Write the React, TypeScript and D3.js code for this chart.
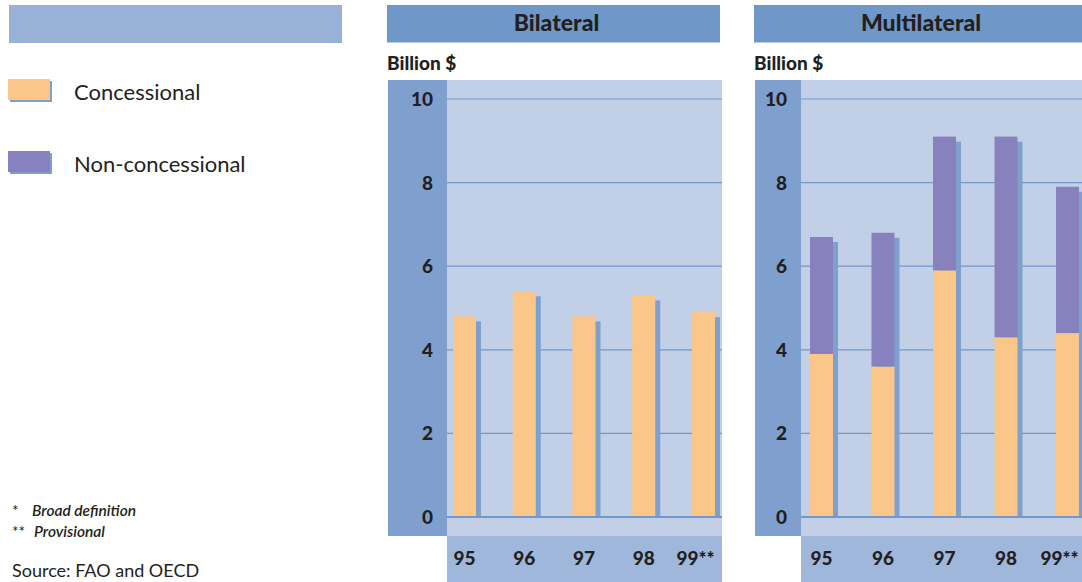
import React from "react";
import * as d3 from "d3";

const years = ["95", "96", "97", "98", "99**"];
const bilateralConcessional = [4.8, 5.4, 4.8, 5.3, 4.9];
const multilateralConcessional = [3.9, 3.6, 5.9, 4.3, 4.4];
const multilateralNonConcessional = [2.8, 3.2, 3.2, 4.8, 3.5];
const yTicks = [0, 2, 4, 6, 8, 10];
const legendLabels = ["Concessional", "Non-concessional"];

const C = {
  title: "#6f98c9",
  legendBar: "#98b1d7",
  strip: "#7fa0ce",
  plot: "#c1d0e7",
  xband: "#9fb7db",
  grid: "#7197cb",
  conc: "#fbc689",
  nonc: "#8782bd",
  shadow: "#7fa0ce",
  text: "#231f20",
};
const FONT = "Lato, 'Open Sans', sans-serif";

type PanelProps = {
  title: string;
  titleX0: number;
  titleX1: number;
  stripX0: number;
  plotX0: number;
  plotX1: number;
  firstCenter: number;
  lastCenter: number;
  conc: number[];
  nonc?: number[];
};

function Panel(p: PanelProps) {
  const y = d3.scaleLinear().domain([0, 10]).range([517, 99]);
  const x = d3.scalePoint<string>().domain(years).range([p.firstCenter, p.lastCenter]);
  const bw = 23;
  const sh = 5;
  const plotTop = 80;
  const plotBottom = 536;
  return (
    <g>
      <rect x={p.titleX0} y={5} width={p.titleX1 - p.titleX0} height={37.5} fill={C.title} />
      <text x={(p.titleX0 + p.titleX1) / 2 + 3} y={31} textAnchor="middle" fontFamily={FONT} fontWeight={900} fontSize={23} fill={C.text}>{p.title}</text>
      <text x={p.stripX0 - 1} y={70} fontFamily={FONT} fontWeight={900} fontSize={19} fill={C.text}>Billion $</text>
      <rect x={p.stripX0} y={plotTop} width={p.plotX0 - p.stripX0} height={plotBottom - plotTop} fill={C.strip} />
      <rect x={p.plotX0} y={plotTop} width={p.plotX1 - p.plotX0} height={plotBottom - plotTop} fill={C.plot} />
      <rect x={p.plotX0} y={plotBottom} width={p.plotX1 - p.plotX0} height={582 - plotBottom} fill={C.xband} />
      {yTicks.map((t) => (
        <g key={t}>
          {t > 0 && <line x1={p.plotX0} x2={p.plotX1} y1={y(t)} y2={y(t)} stroke={C.grid} strokeWidth={1.2} />}
          <text x={p.plotX0 - 14} y={y(t) + 7} textAnchor="end" fontFamily={FONT} fontWeight={900} fontSize={19} fill={C.text}>{t}</text>
        </g>
      ))}
      {years.map((yr, i) => {
        const cx = x(yr) as number;
        const total = p.conc[i] + (p.nonc ? p.nonc[i] : 0);
        return (
          <g key={yr}>
            <rect x={cx - bw / 2 + sh} y={y(total) + sh} width={bw} height={y(0) - y(total) - sh} fill={C.shadow} />
            <rect x={cx - bw / 2} y={y(p.conc[i])} width={bw} height={y(0) - y(p.conc[i])} fill={C.conc} />
            {p.nonc && (
              <rect x={cx - bw / 2} y={y(total)} width={bw} height={y(p.conc[i]) - y(total)} fill={C.nonc} />
            )}
            <text x={cx + (yr.includes("*") ? -8 : 0)} y={565} textAnchor="middle" fontFamily={FONT} fontWeight={900} fontSize={19} fill={C.text}>{yr}</text>
          </g>
        );
      })}
      <line x1={p.plotX0} x2={p.plotX1} y1={y(0)} y2={y(0)} stroke={C.grid} strokeWidth={2} />
    </g>
  );
}

export default function App() {
  return (
    <svg width={1082} height={582} style={{ position: "absolute", left: 0, top: 0, background: "#fff" }}>
      <rect x={0} y={0} width={1082} height={582} fill="#fff" />
      <rect x={9} y={5} width={333} height={38} fill={C.legendBar} />
      {legendLabels.map((l, i) => {
        const yy = 79 + i * 72;
        return (
          <g key={l}>
            <rect x={10} y={yy + 2} width={42} height={21} fill={C.shadow} />
            <rect x={8} y={yy} width={42} height={21} fill={i === 0 ? C.conc : C.nonc} />
            <text x={74} y={yy + 21} fontFamily={FONT} fontSize={22} fill={C.text}>{l}</text>
          </g>
        );
      })}
      <text x={12} y={516} fontFamily={FONT} fontSize={15.5} fill={C.text}>*</text>
      <text x={32} y={516} fontFamily={FONT} fontSize={15.5} fontStyle="italic" fontWeight={600} fill={C.text}>Broad definition</text>
      <text x={12} y={537} fontFamily={FONT} fontSize={15.5} fill={C.text}>**</text>
      <text x={34} y={537} fontFamily={FONT} fontSize={15.5} fontStyle="italic" fontWeight={600} fill={C.text}>Provisional</text>
      <text x={12} y={577} fontFamily={FONT} fontSize={18} fill={C.text}>Source: FAO and OECD</text>
      <Panel title="Bilateral" titleX0={387} titleX1={720} stripX0={388} plotX0={447} plotX1={722}
        firstCenter={464.5} lastCenter={703.5} conc={bilateralConcessional} />
      <Panel title="Multilateral" titleX0={754} titleX1={1082} stripX0={755} plotX0={801} plotX1={1082}
        firstCenter={821.5} lastCenter={1067.5} conc={multilateralConcessional} nonc={multilateralNonConcessional} />
    </svg>
  );
}
